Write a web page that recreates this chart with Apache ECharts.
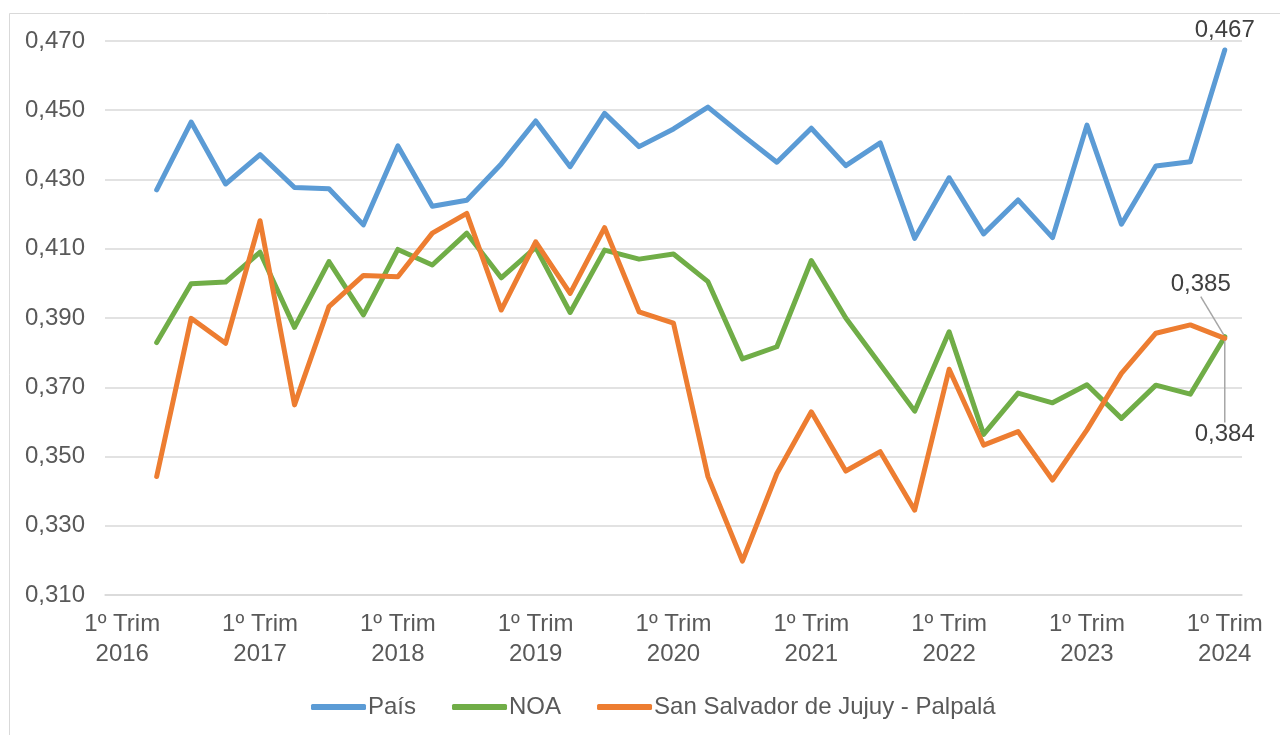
<!DOCTYPE html>
<html>
<head>
<meta charset="utf-8">
<script src="https://cdn.jsdelivr.net/npm/echarts@6/dist/echarts.min.js"></script>
<style>
html,body{margin:0;padding:0;background:#fff;}
#chart{width:1280px;height:735px;}
</style>
</head>
<body>
<div id="chart"></div>
<script>
const categories = [
  '1º Trim 2016','2º Trim 2016','3º Trim 2016','4º Trim 2016',
  '1º Trim 2017','2º Trim 2017','3º Trim 2017','4º Trim 2017',
  '1º Trim 2018','2º Trim 2018','3º Trim 2018','4º Trim 2018',
  '1º Trim 2019','2º Trim 2019','3º Trim 2019','4º Trim 2019',
  '1º Trim 2020','2º Trim 2020','3º Trim 2020','4º Trim 2020',
  '1º Trim 2021','2º Trim 2021','3º Trim 2021','4º Trim 2021',
  '1º Trim 2022','2º Trim 2022','3º Trim 2022','4º Trim 2022',
  '1º Trim 2023','2º Trim 2023','3º Trim 2023','4º Trim 2023',
  '1º Trim 2024'
];
const pais = [null,
  0.4270,0.4466,0.4287,0.4372,0.4277,0.4273,0.4169,0.4397,
  0.4223,0.4240,0.4345,0.4469,0.4337,0.4491,0.4395,0.4446,
  0.4509,0.4428,0.4350,0.4448,0.4340,0.4406,0.4130,0.4305,
  0.4143,0.4241,0.4132,0.4457,0.4171,0.4339,0.4351,0.4674];
const noa = [null,
  0.3829,0.3999,0.4004,0.4090,0.3873,0.4063,0.3909,0.4098,
  0.4053,0.4145,0.4016,0.4104,0.3916,0.4096,0.4070,0.4085,
  0.4005,0.3782,0.3817,0.4066,0.3900,0.3766,0.3631,0.3860,
  0.3564,0.3683,0.3655,0.3707,0.3610,0.3706,0.3680,0.3846];
const jujuy = [null,
  0.3442,0.3899,0.3827,0.4181,0.3649,0.3933,0.4023,0.4019,
  0.4145,0.4202,0.3923,0.4120,0.3971,0.4161,0.3918,0.3885,
  0.3442,0.3198,0.3451,0.3629,0.3458,0.3514,0.3345,0.3752,
  0.3533,0.3572,0.3432,0.3577,0.3740,0.3856,0.3880,0.3841];
const seriesNames = ['País','NOA','San Salvador de Jujuy - Palpalá'];
const colors = ['#5B9BD5','#70AD47','#ED7D31'];

const fmt = v => Number(v).toFixed(3).replace('.', ',');
const FONT = '"Liberation Sans", Arial, sans-serif';

function withLastLabel(arr, label) {
  return arr.map((v, i) => {
    if (i === arr.length - 1) {
      return { value: v, symbol: 'circle', symbolSize: 4, label: label };
    }
    return { value: v, symbol: 'none' };
  });
}
const lblText = { show: true, formatter: p => fmt(p.value), color: '#404040', fontSize: 24, fontFamily: FONT };
const leader = { show: true, length2: 0, lineStyle: { color: '#a6a6a6', width: 1.5 } };

const chart = echarts.init(document.getElementById('chart'));
chart.setOption({
  animation: false,
  backgroundColor: '#fff',
  graphic: [{
    type: 'rect', left: 7, top: 11, silent: true,
    shape: { width: 1400, height: 900 },
    style: { fill: 'none', stroke: '#d9d9d9', lineWidth: 1 }
  }],
  grid: { left: 105, right: 38, top: 41, bottom: 140, containLabel: false },
  legend: {
    left: 306, top: 690,
    itemWidth: 55, itemHeight: 6, itemGap: 36,
    icon: 'roundRect',
    textStyle: { color: '#595959', fontSize: 24, fontFamily: FONT, padding: [0, 0, 0, -3] },
    data: seriesNames
  },
  xAxis: {
    type: 'category', data: categories, boundaryGap: true,
    axisLine: { show: true, lineStyle: { color: '#d9d9d9', width: 1.5 } },
    axisTick: { show: false },
    axisLabel: {
      interval: 3, color: '#595959', fontSize: 24, fontFamily: FONT,
      lineHeight: 30, margin: 14,
      formatter: v => v.replace(/ (\d{4})$/, '\n$1')
    },
    splitLine: { show: false }
  },
  yAxis: {
    type: 'value', min: 0.31, max: 0.47, interval: 0.02,
    axisLine: { show: false }, axisTick: { show: false },
    axisLabel: { color: '#595959', fontSize: 24, fontFamily: FONT, margin: 20, formatter: v => fmt(v) },
    splitLine: { lineStyle: { color: '#d9d9d9', width: 1.5 } }
  },
  series: [
    {
      name: seriesNames[0], type: 'line', color: colors[0],
      lineStyle: { width: 5, cap: 'round', join: 'round' },
      showSymbol: true, symbol: 'none',
      data: withLastLabel(pais, Object.assign({}, lblText, { position: 'top', distance: 6 })),
      z: 4
    },
    {
      name: seriesNames[1], type: 'line', color: colors[1],
      lineStyle: { width: 5, cap: 'round', join: 'round' },
      showSymbol: true, symbol: 'none',
      data: withLastLabel(noa, Object.assign({}, lblText, { position: 'top', distance: 5 })),
      labelLayout: { dx: -24, dy: -33 },
      labelLine: leader,
      z: 2
    },
    {
      name: seriesNames[2], type: 'line', color: colors[2],
      lineStyle: { width: 5, cap: 'round', join: 'round' },
      showSymbol: true, symbol: 'none',
      data: withLastLabel(jujuy, Object.assign({}, lblText, { position: 'bottom', distance: 5 })),
      labelLayout: { dx: 0, dy: 77 },
      labelLine: leader,
      z: 3
    }
  ]
});
</script>
</body>
</html>
